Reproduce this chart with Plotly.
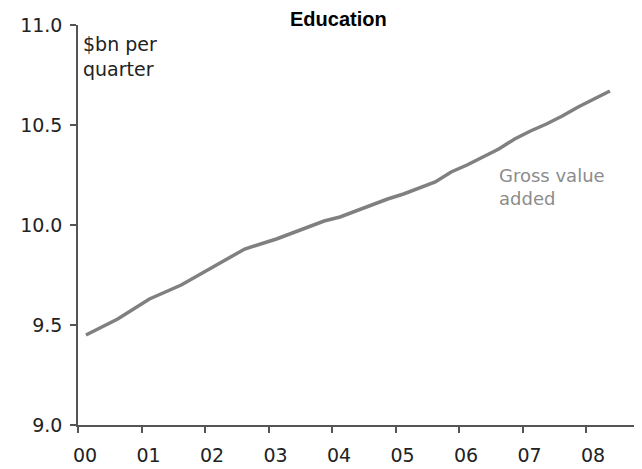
import plotly.graph_objects as go

years = [2000, 2001, 2002, 2003, 2004, 2005, 2006, 2007, 2008]
year_labels = ["00", "01", "02", "03", "04", "05", "06", "07", "08"]
quarters_per_year = 4

# Quarterly gross value added, $bn per quarter, 2000Q1 - 2008Q2
gva = [
    9.45, 9.49, 9.53, 9.58,
    9.63, 9.665, 9.70, 9.745,
    9.79, 9.84, 9.88, 9.905,
    9.93, 9.96, 9.99, 10.02,
    10.04, 10.07, 10.10, 10.13,
    10.155, 10.185, 10.215, 10.265,
    10.30, 10.34, 10.38, 10.43,
    10.47, 10.505, 10.545, 10.59,
    10.63, 10.67,
]
x_quarter = [2000 + (i + 0.5) / quarters_per_year for i in range(len(gva))]

y_ticks = [9.0, 9.5, 10.0, 10.5, 11.0]
y_tick_labels = ["9.0", "9.5", "10.0", "10.5", "11.0"]

fig = go.Figure()
fig.add_trace(go.Scatter(
    x=x_quarter, y=gva, mode="lines",
    line=dict(color="#808080", width=3.5),
    showlegend=False, hoverinfo="skip",
))

axis_color = "#555555"
fig.update_layout(
    width=634, height=461,
    margin=dict(l=70, r=0, t=17, b=44),
    paper_bgcolor="white", plot_bgcolor="white",
    font=dict(family="DejaVu Sans", size=18, color="#222222"),
    xaxis=dict(
        range=[2000, 2008.88], tickvals=years, ticktext=year_labels,
        showgrid=False, zeroline=False, showline=True, linecolor=axis_color, linewidth=1.5,
        ticks="outside", ticklen=6, tickcolor=axis_color, tickwidth=1.5,
        ticklabelshift=7, ticklabelstandoff=6,
        tickfont=dict(family="DejaVu Sans", size=19, color="#222222"),
    ),
    yaxis=dict(
        range=[9.0, 11.0], tickvals=y_ticks, ticktext=y_tick_labels,
        showgrid=False, zeroline=False, showline=True, linecolor=axis_color, linewidth=1.5,
        ticks="outside", ticklen=6, tickcolor=axis_color, tickwidth=1.5,
        ticklabelstandoff=4,
        tickfont=dict(family="DejaVu Sans", size=19, color="#222222"),
    ),
    annotations=[
        dict(text="<b>Education</b>", xref="paper", yref="paper",
             x=(338 - 78) / 564, y=1.0, xanchor="center", yanchor="middle",
             yshift=6, showarrow=False,
             font=dict(family="Liberation Sans", size=20, color="#000000")),
        dict(text="$bn per<br>quarter", xref="paper", yref="paper",
             x=0.005, y=0.985, xanchor="left", yanchor="top", align="left",
             showarrow=False,
             font=dict(family="DejaVu Sans", size=19, color="#222222")),
        dict(text="Gross value<br>added", xref="paper", yref="paper",
             x=(497 - 78) / 564, y=(425 - 163) / 400, xanchor="left", yanchor="top",
             align="left", showarrow=False,
             font=dict(family="DejaVu Sans", size=18, color="#8c8c8c")),
    ],
)

fig.write_html("out.html")
